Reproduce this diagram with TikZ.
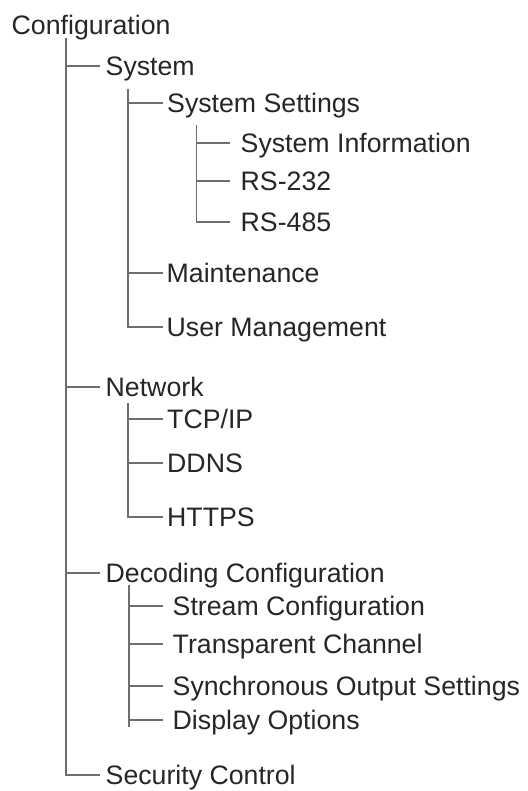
\documentclass[tikz,border=0pt]{standalone}
\usepackage{fontspec}
\setmainfont{Liberation Sans}
\definecolor{txt}{HTML}{262626}
\definecolor{ln}{HTML}{6E6E6E}
\begin{document}
\begin{tikzpicture}[x=1pt,y=-1pt,
  item/.style={anchor=west, inner sep=0pt, text height=19.1pt, text depth=0pt,
    font=\fontsize{26.7}{32}\selectfont, text=txt},
  conn/.style={draw=ln, line width=1.8pt}]
\useasboundingbox (0,0) rectangle (527,791);
% nodes
\node[item] (cfg) at (11.5,24.5) {Configuration};
\node[item] (sys) at (105.5,66) {System};
\node[item] (sset) at (167,103) {System Settings};
\node[item] (sinfo) at (240.5,143) {System Information};
\node[item] (rs232) at (240.5,181) {RS-232};
\node[item] (rs485) at (240.5,222) {RS-485};
\node[item] (maint) at (166.5,273) {Maintenance};
\node[item] (user) at (166.5,327) {User Management};
\node[item] (net) at (105.5,387) {Network};
\node[item] (tcp) at (167,419) {TCP/IP};
\node[item] (ddns) at (167,463) {DDNS};
\node[item] (https) at (167,517) {HTTPS};
\node[item] (dec) at (105.5,573) {Decoding Configuration};
\node[item] (stream) at (172.5,606) {Stream Configuration};
\node[item] (trans) at (172.5,644) {Transparent Channel};
\node[item] (sync) at (172.5,686) {Synchronous Output Settings};
\node[item] (disp) at (172.5,720) {Display Options};
\node[item] (sec) at (105.5,775) {Security Control};
% vertical starts
\coordinate (v0) at (66,38);
\coordinate (v1) at (128,89);
\coordinate (v2) at (196.5,125);
\coordinate (v3) at (128,403);
\coordinate (v4) at (129,585);
\coordinate (v4e) at (129,727);
% root level
\draw[conn] (v0) |- ([xshift=-5.5pt]sec.west);
\draw[conn] (v0 |- sys.west) -- ([xshift=-5.5pt]sys.west);
\draw[conn] (v0 |- net.west) -- ([xshift=-5.5pt]net.west);
\draw[conn] (v0 |- dec.west) -- ([xshift=-5.5pt]dec.west);
% System
\draw[conn] (v1) |- ([xshift=-3.5pt]user.west);
\draw[conn] (v1 |- sset.west) -- ([xshift=-4pt]sset.west);
\draw[conn] (v1 |- maint.west) -- ([xshift=-3.5pt]maint.west);
% System Settings
\draw[conn] (v2) |- ([xshift=-10.5pt]rs485.west);
\draw[conn] (v2 |- sinfo.west) -- ([xshift=-10.5pt]sinfo.west);
\draw[conn] (v2 |- rs232.west) -- ([xshift=-10.5pt]rs232.west);
% Network
\draw[conn] (v3) |- ([xshift=-4pt]https.west);
\draw[conn] (v3 |- tcp.west) -- ([xshift=-4pt]tcp.west);
\draw[conn] (v3 |- ddns.west) -- ([xshift=-4pt]ddns.west);
% Decoding
\draw[conn] (v4) -- (v4e);
\draw[conn] (v4 |- stream.west) -- ([xshift=-9.5pt]stream.west);
\draw[conn] (v4 |- trans.west) -- ([xshift=-9.5pt]trans.west);
\draw[conn] (v4 |- sync.west) -- ([xshift=-9.5pt]sync.west);
\draw[conn] (v4 |- disp.west) -- ([xshift=-9.5pt]disp.west);
\end{tikzpicture}
\end{document}
